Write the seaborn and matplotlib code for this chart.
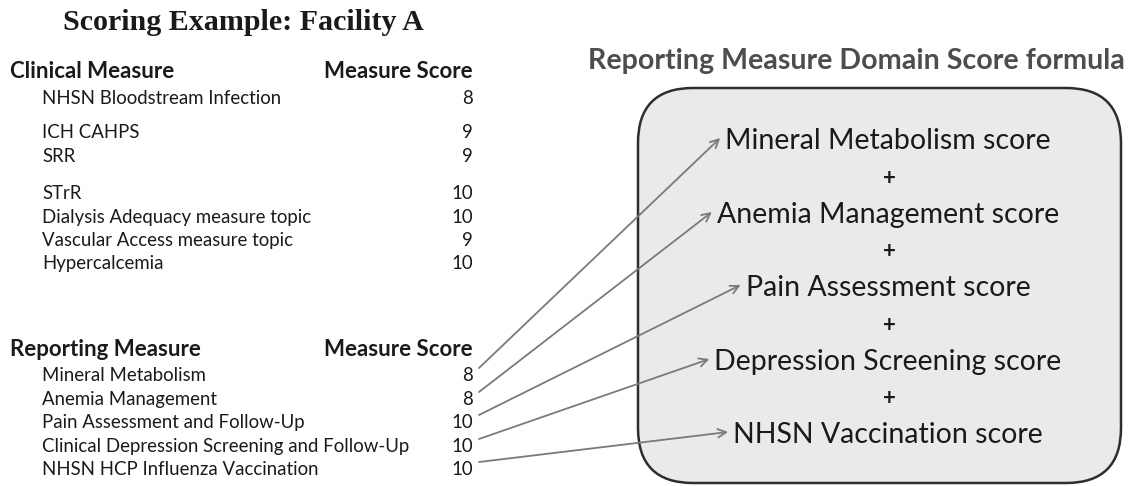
import matplotlib
matplotlib.use("Agg")
import matplotlib.pyplot as plt
import seaborn as sns
from matplotlib.patches import FancyBboxPatch

# data
clinical_measures = ["NHSN Bloodstream Infection", "ICH CAHPS", "SRR", "STrR",
                     "Dialysis Adequacy measure topic", "Vascular Access measure topic",
                     "Hypercalcemia"]
clinical_scores = [8, 9, 9, 10, 10, 9, 10]
reporting_measures = ["Mineral Metabolism", "Anemia Management",
                      "Pain Assessment and Follow-Up",
                      "Clinical Depression Screening and Follow-Up",
                      "NHSN HCP Influenza Vaccination"]
reporting_scores = [8, 8, 10, 10, 10]
formula_terms = ["Mineral Metabolism score", "Anemia Management score",
                 "Pain Assessment score", "Depression Screening score",
                 "NHSN Vaccination score"]

sns.set_theme(style="white")
plt.rcParams['font.family'] = ['Lato', 'DejaVu Sans']

fig = plt.figure(figsize=(11.35, 4.86), dpi=100)
ax = fig.add_axes([0, 0, 1, 1])
ax.set_xlim(0, 1135)
ax.set_ylim(486, 0)
ax.axis("off")

ink = "#1a1a1a"
arrow_col = "#7a7a7a"

# title
ax.text(243, 22, "Scoring Example: Facility A", family=["Liberation Serif"],
        fontsize=21.6, fontweight="bold", ha="center", va="center", color=ink)

# clinical table
clin_y = [98, 132, 156, 193, 217, 240, 263]
ax.text(10, 72, "Clinical Measure", fontsize=16, fontweight="bold", va="center", color=ink)
ax.text(473, 72, "Measure Score", fontsize=16, fontweight="bold", va="center", ha="right", color=ink)
for name, score, y in zip(clinical_measures, clinical_scores, clin_y):
    ax.text(42, y, name, fontsize=13.4, va="center", color=ink)
    ax.text(473, y, str(score), fontsize=13.4, va="center", ha="right", color=ink)

# reporting table
rep_y = [375, 399, 422, 446, 469]
ax.text(10, 349, "Reporting Measure", fontsize=16, fontweight="bold", va="center", color=ink)
ax.text(473, 349, "Measure Score", fontsize=16, fontweight="bold", va="center", ha="right", color=ink)
for name, score, y in zip(reporting_measures, reporting_scores, rep_y):
    ax.text(42, y, name, fontsize=13.4, va="center", color=ink)
    ax.text(473, y, str(score), fontsize=13.4, va="center", ha="right", color=ink)

# formula box
ax.text(856, 61, "Reporting Measure Domain Score formula", fontsize=20.6,
        fontweight="bold", ha="center", va="center", color="#4d4d4d")
box = FancyBboxPatch((638, 88), 483, 395, boxstyle="round,pad=0,rounding_size=55",
                     facecolor="#eaeaea", edgecolor="#2e2e2e", linewidth=1.8)
ax.add_patch(box)

term_y = [141, 215, 288, 362, 435]
term_texts = []
for i, (term, y) in enumerate(zip(formula_terms, term_y)):
    term_texts.append(ax.text(888, y, term, fontsize=20.5, ha="center",
                              va="center", color=ink))
    if i < len(term_y) - 1:
        ax.text(889, (y + term_y[i + 1]) / 2, "+", fontsize=16,
                fontweight="bold", ha="center", va="center", color=ink)

# arrows from reporting scores to the left edge of each formula term
renderer = fig.canvas.get_renderer()
inv = ax.transData.inverted()
for ys, t, ye in zip(rep_y, term_texts, term_y):
    bb = t.get_window_extent(renderer)
    x_left = inv.transform((bb.x0, bb.y0))[0]
    ax.annotate("", xy=(x_left - 5, ye - 3), xytext=(479, ys - 7),
                arrowprops=dict(arrowstyle="->,head_length=0.5,head_width=0.25",
                                color=arrow_col, lw=1.3, shrinkA=0, shrinkB=0))

fig.savefig("out.png", dpi=100)
